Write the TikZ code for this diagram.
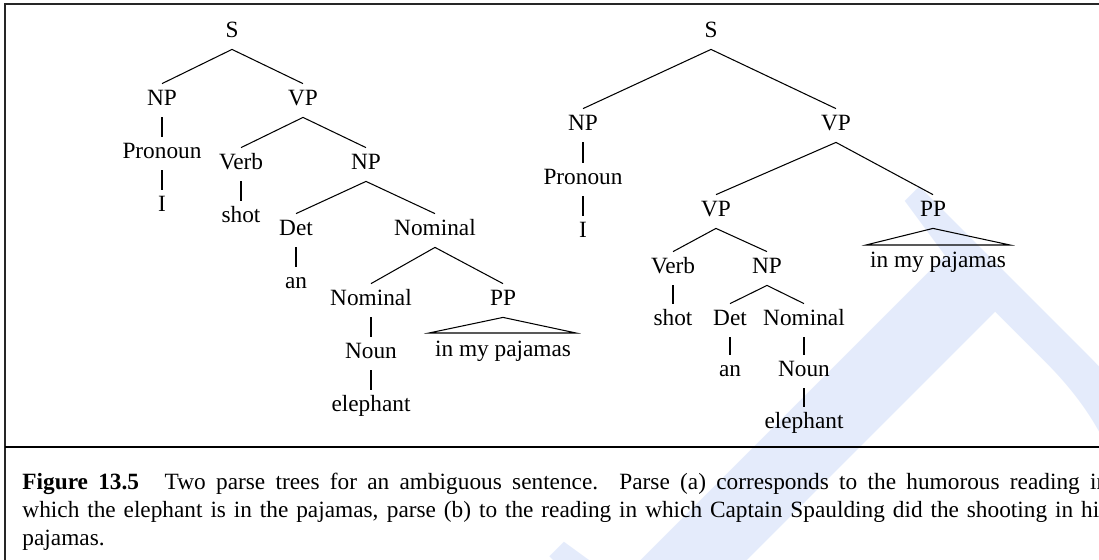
\documentclass[tikz,border=0pt]{standalone}
\usepackage{fontspec}
\setmainfont{Liberation Serif}
\definecolor{wmblue}{RGB}{228,235,251}
\begin{document}
\begin{tikzpicture}[x=0.4292pt,y=-0.4292pt,
  lbl/.style={inner xsep=1pt, inner ysep=2.4pt, text height=7pt, text depth=2.3pt,
              font=\fontsize{10}{12}\selectfont, anchor=base},
  edge/.style={line width=0.45pt, black},
  frame/.style={line width=0.7pt, black!85},
  captionline/.style={inner sep=0pt, anchor=base west, font=\fontsize{10}{12}\selectfont}]
\useasboundingbox (0,0) rectangle (1099,560);
\begin{scope}
\clip (0,0) rectangle (1099,560);
% watermark
\node[rotate=-45, anchor=base west, text=wmblue, font=\fontsize{343}{343}\selectfont, inner sep=0pt] (wm) at (533,540) {DRAFT};

% frame
\draw[frame] (1120,4) -- (5,4) -- (5,600);
\draw[line width=1.1pt, black] (5,447) -- (1120,447);

% ---------- left tree ----------
\node[lbl] (Sa) at (232,38) {S};
\node[lbl] (NPa) at (162,106) {NP};
\node[lbl] (VPa) at (303,106) {VP};
\node[lbl] (Pra) at (162,159) {Pronoun};
\node[lbl] (Ia) at (162,212) {I};
\node[lbl] (Verba) at (241,170) {Verb};
\node[lbl] (shota) at (241,223) {shot};
\node[lbl] (NPa2) at (366,170) {NP};
\node[lbl] (Deta) at (296,236) {Det};
\node[lbl] (ana) at (296,289) {an};
\node[lbl] (Noma) at (435,236) {Nominal};
\node[lbl] (Noma2) at (371,306) {Nominal};
\node[lbl] (PPa) at (503,306) {PP};
\node[lbl] (Nouna) at (371,359) {Noun};
\node[lbl] (elea) at (371,412) {elephant};
\node[lbl] (pja) at (503,357) {in my pajamas};
\coordinate (tla) at (429,333);
\coordinate (tra) at (576,333);

\draw[edge] (Sa.south) -- (NPa.north);
\draw[edge] (Sa.south) -- (VPa.north);
\draw[edge] (NPa.south) -- (Pra.north);
\draw[edge] (Pra.south) -- (Ia.north);
\draw[edge] (VPa.south) -- (Verba.north);
\draw[edge] (VPa.south) -- (NPa2.north);
\draw[edge] (Verba.south) -- (shota.north);
\draw[edge] (NPa2.south) -- (Deta.north);
\draw[edge] (NPa2.south) -- (Noma.north);
\draw[edge] (Deta.south) -- (ana.north);
\draw[edge] (Noma.south) -- (Noma2.north);
\draw[edge] (Noma.south) -- (PPa.north);
\draw[edge] (Noma2.south) -- (Nouna.north);
\draw[edge] (Nouna.south) -- (elea.north);
\draw[edge] (PPa.south) -- (tla) -- (tra) -- cycle;

% ---------- right tree ----------
\node[lbl] (Sb) at (711,38) {S};
\node[lbl] (NPb) at (583,131) {NP};
\node[lbl] (VPb) at (836,131) {VP};
\node[lbl] (Prb) at (583,185) {Pronoun};
\node[lbl] (Ib) at (583,238) {I};
\node[lbl] (VPb2) at (716,217) {VP};
\node[lbl] (PPb) at (933,217) {PP};
\node[lbl] (Verbb) at (673,274) {Verb};
\node[lbl] (NPb2) at (767,274) {NP};
\node[lbl] (shotb) at (673,326) {shot};
\node[lbl] (Detb) at (730,326) {Det};
\node[lbl] (Nomb) at (804,326) {Nominal};
\node[lbl] (anb) at (730,377) {an};
\node[lbl] (Nounb) at (804,377) {Noun};
\node[lbl] (eleb) at (804,429) {elephant};
\node[lbl] (pjb) at (938,268) {in my pajamas};
\coordinate (tlb) at (866,245);
\coordinate (trb) at (1010,245);

\draw[edge] (Sb.south) -- (NPb.north);
\draw[edge] (Sb.south) -- (VPb.north);
\draw[edge] (NPb.south) -- (Prb.north);
\draw[edge] (Prb.south) -- (Ib.north);
\draw[edge] (VPb.south) -- (VPb2.north);
\draw[edge] (VPb.south) -- (PPb.north);
\draw[edge] (VPb2.south) -- (Verbb.north);
\draw[edge] (VPb2.south) -- (NPb2.north);
\draw[edge] (Verbb.south) -- (shotb.north);
\draw[edge] (NPb2.south) -- (Detb.north);
\draw[edge] (NPb2.south) -- (Nomb.north);
\draw[edge] (Detb.south) -- (anb.north);
\draw[edge] (Nomb.south) -- (Nounb.north);
\draw[edge] (Nounb.south) -- (eleb.north);
\draw[edge] (PPb.south) -- (tlb) -- (trb) -- cycle;

% ---------- caption ----------
\node[captionline] (cap1) at (22,490) {\hbox to 466pt{\textbf{Figure 13.5}\hspace{1.1em}Two parse trees for an ambiguous sentence. Parse (a) corresponds to the humorous reading in}};
\node[captionline] (cap2) at (22,518) {\hbox to 466pt{which the elephant is in the pajamas, parse (b) to the reading in which Captain Spaulding did the shooting in his}};
\node[captionline] (cap3) at (22,546) {pajamas.};
\end{scope}
\end{tikzpicture}
\end{document}
